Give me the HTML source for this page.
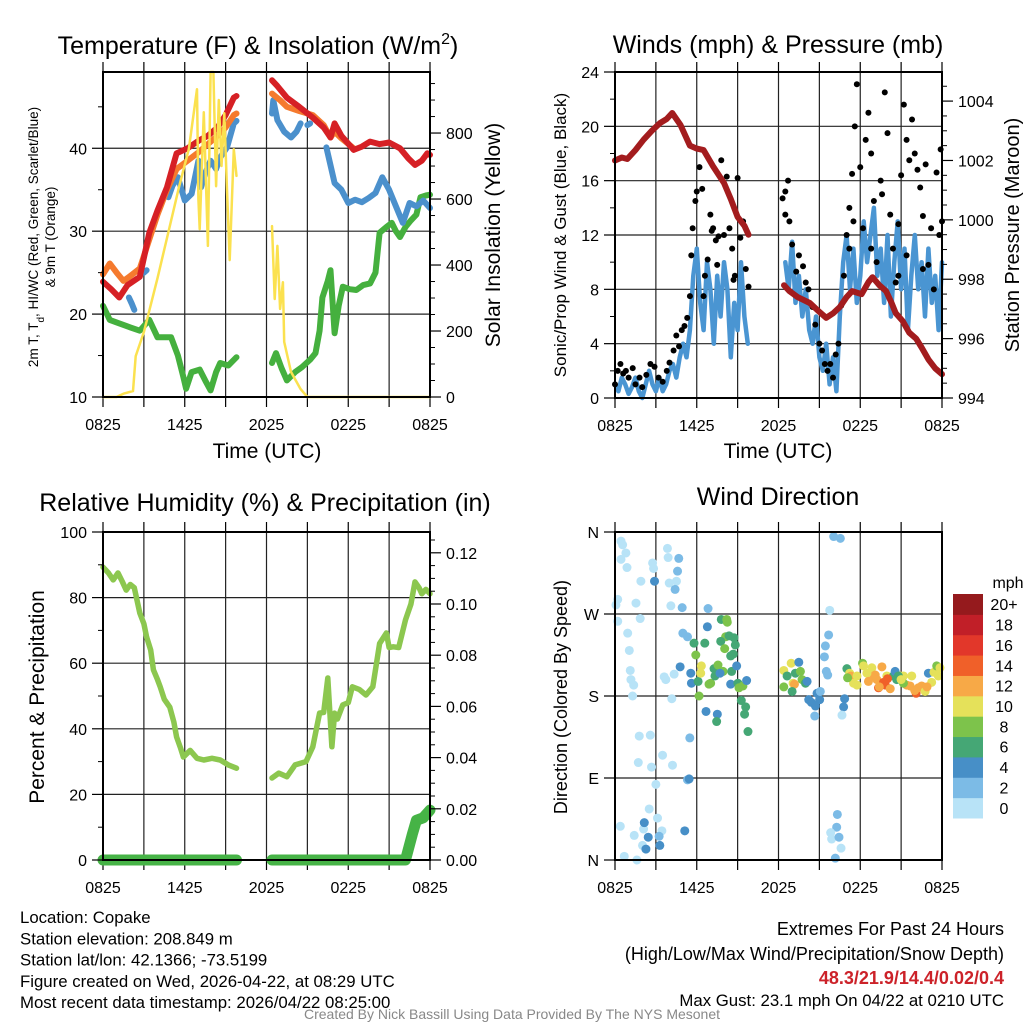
<!DOCTYPE html>
<html><head><meta charset="utf-8"><style>
body{margin:0;background:#fff;}
svg{display:block;font-family:"Liberation Sans",Arial,sans-serif;}
</style></head><body>
<svg id="c" width="1024" height="1024" viewBox="0 0 1024 1024" xmlns="http://www.w3.org/2000/svg"></svg>
<script>
// ---- Temperature panel data (hours since 0825 UTC) ----
const tRed=[0,0.6,1.2,1.8,2.7,3.4,4.0,4.7,5.4,6.2,7.1,7.7,8.4,9.0,9.6,9.8,null,12.4,12.8,13.5,14.4,15.4,16.2,16.7,17.0,17.5,18.4,19.0,19.6,20.3,21.0,21.8,22.4,22.9,23.4,23.8,24];
const vRed=[23.9,23,22,23.5,24.5,29.8,32.5,35.3,39.4,40,41,41.5,42.5,44,46.1,46.3,null,48.2,47.5,46.1,45,43.7,42.5,41.3,43,41.5,39.8,40.2,40.8,40.5,40.7,40,38.8,38,38.5,39.4,39.2];
const tOrange=[0,0.5,1.0,1.5,2.0,2.7,3.4,4.0,4.7,5.4,6.2,7.0,7.7,8.4,9.0,9.6,9.8,null,12.4,13.0,13.5,14.4,15.4,16.2,16.7,17.0,17.5,18.4];
const vOrange=[24.8,26.1,25,24,24.6,25.5,29,32,35,37.5,38.5,39.5,40.5,41.5,42.5,44,44.2,null,46.6,45.8,45,44.5,44,42.8,41.3,42,41.2,40];
const tBlue=[1.9,2.1,2.3,null,3.0,3.2,null,4.8,5.1,5.5,6.0,6.5,7.0,7.2,7.5,7.9,8.3,8.6,9.1,9.6,9.8,null,12.4,12.5,12.8,13.3,13.8,14.2,14.5,null,15.0,15.2,null,16.4,17.0,17.5,18.0,18.5,19.0,19.5,20.0,20.5,21.0,21.5,22.0,22.5,23.0,23.5,24];
const vBlue=[22,21.3,20.5,null,25,25.3,null,34.1,35.5,36.5,33.7,34.5,38.5,35.3,37,38.5,37.5,38.9,40.1,43,43.3,null,44.2,45.8,43.4,42,41.3,42,43,null,42.8,43,null,40.1,35.8,35,33.4,33.8,33.5,34,34.6,36.5,35,33,31,33.4,33,33.7,32.8];
const tDew=[0,0.5,1.0,2.0,2.7,3.4,4.0,5.0,5.5,5.9,6.1,6.5,7.1,7.5,7.9,8.3,8.6,9.2,9.8,null,12.4,12.7,13.1,13.5,14.1,14.6,15.2,15.6,15.9,16.1,16.5,16.7,17.0,17.3,17.6,18.1,18.6,19.1,19.6,20.0,20.3,20.8,21.2,21.5,21.8,22.2,22.6,23.0,23.3,23.7,24];
const vDew=[21,19.3,19,18.4,18,19.3,17.2,17.2,15,12.4,11,13,13.3,12,10.8,13,14.1,13.8,14.8,null,14.1,15.3,13.5,12,13,13.6,14.5,15.3,18,22,24,25.3,17.7,21,23.3,23,22.9,23.5,23.7,25,29.8,30.5,31,30,29.3,30.5,31.3,32,34.1,34.3,34.4];
const tSun=[0,1.0,1.5,2.2,2.4,3.0,4.0,4.9,5.6,6.3,6.9,7.0,7.1,7.4,7.7,7.9,8.1,8.3,8.5,8.7,8.9,9.1,9.3,9.6,9.8,null,12.4,12.6,12.8,13.0,13.2,13.3,13.8,14.5,15.0,16,20,24];
const vSun=[0,0,10,18,124,197,360,518,640,751,933,600,509,863,458,985,985,639,900,700,860,627,415,751,670,null,518,297,458,267,348,167,76,24,0,0,0,0];
// ---- Wind panel data ----
const tWind1=[0,0.25,0.5,0.75,1,1.25,1.5,1.75,2,2.25,2.5,2.75,3,3.25,3.5,3.75,4,4.25,4.5,4.75,5,5.25,5.5,5.75,6,6.25,6.5,6.75,7,7.25,7.5,7.75,8,8.25,8.5,8.75,9,9.25,9.5,9.75];
const vWind1=[1,0.5,1.5,1,0.3,0.8,1.5,0.5,0,1,2,1,0.5,1.5,0.5,1,2,2.5,1.5,3,4,3,5,9,11,7,5,10,8,4,9,6,10,8,3,7,5,10,6,4];
const tWind2=[12.5,12.75,13,13.25,13.5,13.75,14,14.25,14.5,14.75,15,15.25,15.5,15.75,16,16.25,16.5,16.75,17,17.25,17.5,17.75,18,18.25,18.5,18.75,19,19.25,19.5,19.75,20,20.25,20.5,20.75,21,21.25,21.5,21.75,22,22.25,22.5,22.75,23,23.25,23.5,23.75,24];
const vWind2=[10,8,11.5,7,9,6,8,5,4,6,3,2,4,1,3,0.5,6,10,12,8,11,7,9,13,10,12,14,9,11,7,12,6,10,13,8,11,5,9,12,8,10,6,11,7,9,5,10];
const tGust=[0,0.2,0.4,0.6,0.8,1,1.3,1.5,1.8,2,2.3,2.6,2.9,3.2,3.5,3.8,4,4.3,4.5,4.7,4.9,5.1,5.3,5.5,5.6,5.7,5.9,6,6.2,6.4,6.6,6.8,7,7.2,7.4,7.6,7.8,8,8.2,8.4,8.6,8.8,9,9.2,9.4,9.6,9.8,6.5,7.5,8.7,7.1,
12.3,12.5,12.7,12.5,12.8,13,13.3,13.5,13.8,14,14.2,14.5,14.7,15,15.2,15.4,15.6,15.8,16,16.2,16.4,16.6,16.8,17,17.2,17.4,17.6,17.75,17.5,18,18.2,18.4,18.6,18.8,19,19.2,19.5,19.6,19.8,20,20.2,20.4,20.6,20.8,21,21.2,21.4,21.6,21.8,22,22.2,22.4,22.6,22.8,23,23.2,23.4,23.6,23.8,24,23.9,21.4,22.6,20.8,18.8,17.2];
const vGust=[1,2,2.5,1.8,2,1.5,2.2,1,1.5,0.8,1.7,2.5,2.3,1.5,1.2,2,2.6,3.5,4.6,3.8,5,5.3,5.9,7.5,10.5,12.5,14.5,15.2,17,15.4,9,10.2,13.5,12.5,11.6,11.9,17.5,12,16.3,12.5,11,9,16.2,11.8,13,9.5,8.2,7.5,9.8,8.7,12.3,
14.7,15.2,16,13.5,13,11.3,9.3,10.5,9.7,8.5,8,6.7,5.4,4,3.5,2.5,2,2.5,1.5,3.2,4,6.8,9,12,14,16.5,20,23.1,13,17,12.5,19,21,18,14.5,10,16,15,22.5,19.5,13.5,11,8.5,9,16.4,21.6,19,17.5,20.5,18,16.8,15.5,13.4,17.2,9.8,12.5,8,16.6,12,13,18.3,10.5,9.5,12.8,11,11];
const tPres=[0,0.5,0.9,1.5,2.1,2.7,3.3,3.8,4.2,4.8,5.5,6.0,6.5,7.2,8.0,8.5,9.0,9.5,9.8,null,12.4,12.8,13.4,14.3,15.0,15.5,16.0,16.5,17.0,17.4,18.1,18.6,18.9,19.4,19.9,20.3,20.6,21.1,21.6,22.1,22.5,23.0,23.5,24];
const vPres=[1002,1002.1,1002.05,1002.35,1002.7,1003,1003.26,1003.4,1003.6,1003.2,1002.5,1002.4,1002.35,1001.8,1001.24,1000.7,1000.1,999.8,999.5,null,997.8,997.6,997.4,997.2,996.9,996.7,996.85,997.06,997.4,997.6,997.5,997.9,998.07,997.8,997.6,997.2,996.86,996.6,996.2,996,995.7,995.3,995,994.8];
// ---- Humidity / precip data ----
const tRH=[0,0.4,0.75,1.1,1.4,1.7,2.0,2.3,2.7,3.0,3.2,3.5,3.7,4.0,4.2,4.5,4.9,5.2,5.4,5.7,5.9,6.4,6.9,7.4,8.0,8.6,9.2,9.8,null,12.4,12.9,13.5,14.1,14.5,14.9,15.4,15.9,16.2,16.5,16.8,17.0,17.2,17.6,18.0,18.3,18.8,19.3,19.8,20.3,20.8,21.0,21.3,21.7,22.2,22.6,22.9,23.2,23.4,23.7,24];
const vRH=[89.3,87.5,85.4,87.5,85,82.3,84,83,75.3,72,68,64,58,55,52.8,49,46.6,42,37.5,34,31.4,33.4,31,30.5,31,30.5,29,28,null,25,26.5,25.4,29,29.5,30,34.5,44.8,45,55.5,34.5,44.8,43,47.3,48,52.8,52,50.3,52.8,66,69.2,64.8,65,64.8,73.2,78,84.8,83,81.2,82.5,81.2];
const tPcp=[0,9.8,null,12.4,22.2,22.4,22.7,23.0,23.5,24];
const vPcp=[0,0,null,0,0,0.004,0.01,0.0155,0.0165,0.0195];
// ---- Wind direction data (hour, degrees, mph) ----
const tDir=[0.44,0.56,0.8,0.44,0.88,1.9,0.2,0.07,1.54,1.85,0.2,0.93,1.05,1.12,1.17,1.37,1.29,1.78,2.59,1.71,2.68,3.0,2.51,3.12,0.39,1.41,2.1,2.02,0.68,1.61,3.85,3.9,2.76,2.83,3.98,4.51,4.1,3.61,3.73,4.34,4.17,3.49,4.22,5.32,3.44,
4.68,4.59,2.9,4.41,4.93,6.83,4.98,5.32,2.15,2.44,2.27,3.24,3.29,5.12,5.49,5.44,
5.8,6.59,5.93,4.78,5.56,5.61,6.1,6.34,6.29,7.27,7.56,7.02,6.9,7.34,7.8,8.2,8.24,8.12,8.37,8.73,7.76,8.05,8.49,8.68,8.83,8.56,7.93,7.71,8.93,8.49,9.02,9.1,9.39,9.66,6.78,6.17,6.68,7.51,7.46,9.27,9.59,9.51,9.76,
12.39,12.93,13.49,12.63,13.24,13.61,13.73,13.07,13.17,13.0,12.39,13.98,14.1,14.22,14.41,14.83,15.02,14.71,14.66,15.07,
16.05,16.54,15.76,15.68,15.44,15.37,15.51,15.61,16.85,16.78,16.66,16.32,16.27,15.83,15.9,16.44,16.59,16.17,
17.02,17.22,17.32,17.51,17.76,18.17,18.24,18.85,18.98,19.1,19.22,19.34,19.59,19.71,19.83,19.95,20.2,20.44,20.56,20.68,20.93,21.17,21.41,21.78,21.66,22.1,22.27,22.51,22.76,23.0,23.24,23.41,23.61,23.85,23.73,18.49,21.17,20.8,17.76,17.07,18.6,19.4,21.0,22.0,22.9,20.0];
const vDir=[350,346,337,330,321,306,286,280,282,265,262,249,230,208,198,192,180,136,137,107,102,83,56,46,37,27,34,16,4,0,342,332,326,320,304,306,279,201,198,204,177,115,104,88,32,
331,317,306,297,277,276,249,245,41,25,12,26,16,32,134,89,
238,238,225,212,205,194,196,213,205,210,214,194,193,202,264,264,261,245,246,244,240,232,224,226,236,207,207,205,213,193,194,189,191,197,256,180,163,160,152,175,168,160,141,
208,216,217,202,205,207,198,194,193,185,190,194,196,176,173,183,176,169,158,185,
355,353,274,247,235,223,207,203,177,168,159,50,36,30,23,25,13,2,
210,205,202,194,192,216,213,211,202,203,198,189,212,195,192,202,188,202,207,198,202,202,192,202,191,183,189,191,185,205,195,206,213,211,202,205,194,202,202,200,196,190,198,186,190,199];
const sDir=[0,0,0,0,0,0,0,0,0,0,0,0,0,0,0,0,0,0,0,0,0,0,0,0,0,0,0,0,0,0,0,0,0,0,0,0,0,0,0,0,0,0,0,2,0,
2,2,4,2,2,2,2,2,4,4,4,2,4,4,2,4,
6,6,8,4,4,4,6,10,10,6,8,8,8,6,6,8,8,8,6,6,6,8,6,6,6,6,8,4,4,4,6,8,8,4,4,8,4,4,6,6,6,6,6,
10,10,4,6,6,8,8,10,12,6,8,6,4,4,4,4,4,4,2,2,
2,2,0,2,2,2,2,2,4,4,0,2,2,0,0,2,0,2,
6,10,12,10,10,8,10,10,12,12,12,14,12,14,14,10,12,6,4,6,10,10,12,10,12,14,12,12,10,4,10,10,8,10,10,10,8,6,10,8,12,12,10,12,12,14];
const spdColors=["#b8e3f7","#7cbbe6","#478fc7","#45a775","#7dc34b","#e5e15a","#f7a947","#f06029","#e2372a","#c11f28","#951a1d"];
const spdLabels=["0","2","4","6","8","10","12","14","16","18","20+"];
const tickTimes=[0,6,12,18,24];
const tickTimeLabels=["0825","1425","2025","0225","0825"];

const svg=document.getElementById('c');
const NS='http://www.w3.org/2000/svg';
function el(tag,attrs,parent){const e=document.createElementNS(NS,tag);for(const k in attrs)e.setAttribute(k,attrs[k]);(parent||svg).appendChild(e);return e;}
function txt(s,x,y,size,anchor,parent,extra){const e=el('text',Object.assign({x:x,y:y,'font-size':size,'text-anchor':anchor||'middle',fill:'#000'},extra||{}),parent);e.textContent=s;return e;}
function scale(d0,d1,r0,r1){return v=>r0+(v-d0)*(r1-r0)/(d1-d0);}
function pathFrom(ts,vs,X,Y){let d='',pen=false;for(let i=0;i<ts.length;i++){if(ts[i]===null||vs[i]===null){pen=false;continue;}d+=(pen?'L':'M')+X(ts[i]).toFixed(1)+' '+Y(vs[i]).toFixed(1);pen=true;}return d;}

function panel(name,L,T,R,B){
  const g=el('g',{});
  
  
  el('rect',{x:L,y:T,width:R-L,height:B-T,fill:'#fff'},g);
  const X=scale(0,24,L,R);
  for(let h=3;h<24;h+=3){el('line',{x1:X(h),y1:T,x2:X(h),y2:B,stroke:'#222','stroke-width':1.2},g);}
  for(let h=0;h<=24;h+=3){el('line',{x1:X(h),y1:B,x2:X(h),y2:B+10,stroke:'#000','stroke-width':1.2},g);el('line',{x1:X(h),y1:T,x2:X(h),y2:T-10,stroke:'#000','stroke-width':1.2},g);}
  const ax=el('g',{},g);
  
  
  tickTimes.forEach((h,i)=>txt(tickTimeLabels[i],X(h),B+33,16,'middle',ax));
  return {g,X};
}
function leftAxis(g,L,T,B,vals,labels,Y,minor,name){
  const a=el('g',{},g);
  
  
  minor.forEach(v=>el('line',{x1:L-5,y1:Y(v),x2:L,y2:Y(v),stroke:'#000'},a));
  vals.forEach((v,i)=>{el('line',{x1:L-11,y1:Y(v),x2:L,y2:Y(v),stroke:'#000','stroke-width':1.2},a);txt(labels[i],L-16,Y(v)+6,16,'end',a);});
}
function rightAxis(g,R,vals,labels,Y,minor,name){
  const a=el('g',{},g);
  
  
  minor.forEach(v=>el('line',{x1:R,y1:Y(v),x2:R+5,y2:Y(v),stroke:'#000'},a));
  vals.forEach((v,i)=>{el('line',{x1:R,y1:Y(v),x2:R+11,y2:Y(v),stroke:'#000','stroke-width':1.2},a);txt(labels[i],R+16,Y(v)+6,16,'start',a);});
}
function hgrid(g,L,R,Y,vals){vals.forEach(v=>el('line',{x1:L,y1:Y(v),x2:R,y2:Y(v),stroke:'#222','stroke-width':1.2},g));}
function frame(g,L,T,R,B){el('rect',{x:L,y:T,width:R-L,height:B-T,fill:'none',stroke:'#000','stroke-width':2},g);}
function series(g,name,ts,vs,X,Y,color,w){const p=el('path',{d:pathFrom(ts,vs,X,Y),fill:'none',stroke:color,'stroke-width':w,'stroke-linecap':'round','stroke-linejoin':'round'},g);return p;}
function ylabel(s,x,y,size,parent,name){const e=txt(s,x,y,size,'middle',parent,{transform:'rotate(-90 '+x+' '+y+')'});return e;}
function title(s,x,y,size,name){const e=txt(s,x,y,size,'middle');return e;}

// ===== Panel 1: Temperature =====
(function(){
  const L=103,T=72,R=430,B=397;
  const P=panel('temperature-panel',L,T,R,B);const g=P.g,X=P.X;
  const Y=scale(10,49.2,B,T);const Ys=scale(0,985,B,T);
  hgrid(g,L,R,Y,[20,30,40]);
  series(g,'dewpoint-line',tDew,vDew,X,Y,'#45b03e',6);
  series(g,'windchill-line',tBlue,vBlue,X,Y,'#4b90cc',6);
  series(g,'temp-9m-line',tOrange,vOrange,X,Y,'#f57a2e',6);
  series(g,'temp-2m-line',tRed,vRed,X,Y,'#d62025',6);
  series(g,'insolation-line',tSun,vSun,X,Ys,'#fbe14f',2.5);
  frame(g,L,T,R,B);
  leftAxis(g,L,T,B,[10,20,30,40],['10','20','30','40'],Y,[15,25,35,45],'temperature-y-axis');
  rightAxis(g,R,[0,200,400,600,800],['0','200','400','600','800'],Ys,[50,100,150,250,300,350,450,500,550,650,700,750,850,900,950],'insolation-y-axis');
  const t=title('Temperature (F) & Insolation (W/m',258,54,25,'temperature-title');
  const sup=el('tspan',{dy:-10,'font-size':16},t);sup.textContent='2';
  const cl=el('tspan',{dy:10},t);cl.textContent=')';
  const yl=txt('',38,237,13.5,'middle',svg,{transform:'rotate(-90 38 237)'});
  
  yl.innerHTML='2m T, T<tspan baseline-shift="sub" font-size="10">d</tspan>, HI/WC (Red, Green, Scarlet/Blue)';
  ylabel('& 9m T (Orange)',55,237,13.5,svg,'temperature-y-axis-title-2');
  ylabel('Solar Insolation (Yellow)',500,235,21,svg,'insolation-y-axis-title');
  const xt=txt('Time (UTC)',267,458,21);
})();

// ===== Panel 2: Winds & Pressure =====
(function(){
  const L=615,T=72,R=942,B=398;
  const P=panel('wind-panel',L,T,R,B);const g=P.g,X=P.X;
  const Y=scale(0,24,B,T);const Yp=scale(994,1004.98,B,T);
  hgrid(g,L,R,Y,[4,8,12,16,20]);
  series(g,'sonic-wind-line-1',tWind1,vWind1,X,Y,'#4a95d2',4.5);
  series(g,'sonic-wind-line-2',tWind2,vWind2,X,Y,'#4a95d2',4.5);
  const dots=el('g',{},g);
  for(let i=0;i<tGust.length;i++){const c=el('circle',{cx:X(tGust[i]),cy:Y(vGust[i]),r:3,fill:'#000'},dots);
    
    }
  series(g,'pressure-line',tPres,vPres,X,Yp,'#a31c1e',6);
  frame(g,L,T,R,B);
  leftAxis(g,L,T,B,[0,4,8,12,16,20,24],['0','4','8','12','16','20','24'],Y,[2,6,10,14,18,22],'wind-y-axis');
  rightAxis(g,R,[994,996,998,1000,1002,1004],['994','996','998','1000','1002','1004'],Yp,[995,997,999,1001,1003,994.5,995.5,996.5,997.5,998.5,999.5,1000.5,1001.5,1002.5,1003.5,1004.5],'pressure-y-axis');
  title('Winds (mph) & Pressure (mb)',778,53,25,'wind-title');
  ylabel('Sonic/Prop Wind & Gust (Blue, Black)',566,235,17,svg,'wind-y-axis-title');
  ylabel('Station Pressure (Maroon)',1019,235,20,svg,'pressure-y-axis-title');
  const xt=txt('Time (UTC)',778,458,21);
})();

// ===== Panel 3: RH & Precip =====
(function(){
  const L=103,T=532,R=430,B=860;
  const P=panel('humidity-panel',L,T,R,B);const g=P.g,X=P.X;
  const Y=scale(0,100,B,T);const Yp=scale(0,0.02,B,B-51.2);
  hgrid(g,L,R,Y,[20,40,60,80]);
  series(g,'humidity-line',tRH,vRH,X,Y,'#8cc74f',5.5);
  series(g,'precip-line',tPcp,vPcp,X,Yp,'#46b346',11);
  frame(g,L,T,R,B);
  leftAxis(g,L,T,B,[0,20,40,60,80,100],['0','20','40','60','80','100'],Y,[10,30,50,70,90],'humidity-y-axis');
  const mn=[];for(let k=1;k<=25;k++){if(k%4)mn.push(k*0.005);}
  rightAxis(g,R,[0,0.02,0.04,0.06,0.08,0.1,0.12],['0.00','0.02','0.04','0.06','0.08','0.10','0.12'],Yp,mn,'precip-y-axis');
  title('Relative Humidity (%) & Precipitation (in)',265,511,25,'humidity-title');
  ylabel('Percent & Precipitation',44,697,21,svg,'humidity-y-axis-title');
})();

// ===== Panel 4: Wind direction =====
(function(){
  const L=615,T=532,R=942,B=860;
  const P=panel('wind-direction-panel',L,T,R,B);const g=P.g,X=P.X;
  const Y=scale(0,360,B,T);
  hgrid(g,L,R,Y,[90,180,270]);
  const dots=el('g',{},g);
  for(let i=0;i<tDir.length;i++){const c=el('circle',{cx:X(tDir[i]),cy:Y(vDir[i]),r:4.5,fill:spdColors[Math.min(10,Math.round(sDir[i]/2))]},dots);
    
    }
  frame(g,L,T,R,B);
  leftAxis(g,L,T,B,[0,90,180,270,360],['N','E','S','W','N'],Y,[],'direction-y-axis');
  title('Wind Direction',778,505,25,'wind-direction-title');
  ylabel('Direction (Colored By Speed)',567,697,18,svg,'direction-y-axis-title');
  const cb=el('g',{});
  const h=224/11;
  for(let i=0;i<11;i++){const y=594+(10-i)*h;
    const r=el('rect',{x:953,y:y,width:30,height:h+0.5,fill:spdColors[i]},cb);
    
    
    txt(spdLabels[i],1004,y+h/2+6,16,'middle',cb);}
  txt('mph',1008,588,16,'middle',cb);
})();

// ===== Footer =====
const info=["Location: Copake","Station elevation: 208.849 m","Station lat/lon: 42.1366; -73.5199","Figure created on Wed, 2026-04-22, at 08:29 UTC","Most recent data timestamp: 2026/04/22 08:25:00"];
const fi=el('g',{});
info.forEach((s,i)=>txt(s,20,923+i*21.3,16.8,'start',fi));
const ex=el('g',{});
txt('Extremes For Past 24 Hours',1004,935,18,'end',ex);
txt('(High/Low/Max Wind/Precipitation/Snow Depth)',1004,960,18,'end',ex);
txt('48.3/21.9/14.4/0.02/0.4',1004,984,18,'end',ex,{fill:'#cc2229','font-weight':'bold'});
txt('Max Gust: 23.1 mph On 04/22 at 0210 UTC',1004,1006,16.8,'end',ex);
const cr=txt('Created By Nick Bassill Using Data Provided By The NYS Mesonet',512,1019,14,'middle',svg,{fill:'#888'});

</script>
</body></html>
